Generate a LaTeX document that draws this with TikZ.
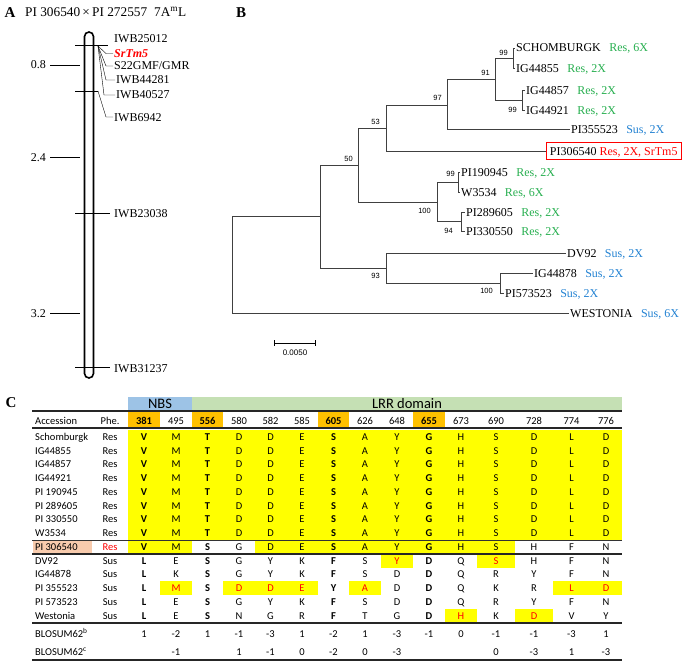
\documentclass[tikz,border=0pt]{standalone}
\usepackage{fontspec}
\setmainfont{Liberation Serif}
\newfontfamily\calfont{Carlito}
\newfontfamily\bootfont{Liberation Sans}
\usetikzlibrary{positioning}
\definecolor{resgreen}{RGB}{40,175,80}
\definecolor{susblue}{RGB}{35,130,210}
\definecolor{hlyellow}{RGB}{255,255,0}
\definecolor{hlorange}{RGB}{255,192,0}
\definecolor{nbsblue}{RGB}{157,195,230}
\definecolor{lrrgreen}{RGB}{197,224,180}
\definecolor{accsalmon}{RGB}{248,203,173}
\newcommand\rd[1]{\textcolor{red}{#1}}
\def\colx{{144,176,207.5,239,270.5,302,333.5,365,397,429,461,496,534,571.5,606}}
\def\coledge{{128,160,192,223,255,286,318,349,381,413,445,477,515,553,590,622}}

\begin{document}
\begin{tikzpicture}[x=1pt, y=-1pt,
  every node/.style={inner sep=0pt},
  panel/.style={font=\fontsize{15}{15}\selectfont\bfseries},
  mk/.style={anchor=west, inner sep=1pt, font=\fontsize{12}{12}\selectfont, text height=8pt, text depth=0pt},
  leaf/.style={mk},
  boot/.style={font=\bootfont\fontsize{7.5}{7.5}\selectfont, text height=5.4pt, text depth=0pt},
  branch/.style={draw=black!75, line width=0.8pt},
  cell/.style={font=\calfont\fontsize{10.5}{10.5}\selectfont, text height=6.7pt, text depth=0pt},
  band/.style={font=\calfont\fontsize{14.5}{14.5}\selectfont, text height=9.5pt, text depth=0pt},
  rulethick/.style={line width=1.2pt, black!85},
]
\useasboundingbox (0,0) rectangle (685,661);

% ---------- A: genetic map
\node[panel] (lA) at (10,13) {A};
\node[mk, font=\fontsize{13.3}{13.3}\selectfont] (titleA) at (24,13) {PI 306540\,×\,PI 272557\hspace{7pt}7A\textsuperscript{m}L};
\node[draw, line width=1.6pt, rounded corners=4.5pt, minimum width=9pt, minimum height=346pt] (chr) at (89,205) {};
\foreach \cm/\yy [count=\k] in {0.8/65, 2.4/157, 3.2/313} {
  \draw[line width=0.9pt] (50,\yy) -- (80,\yy);
  \node[mk, anchor=east] (sc\k) at (47,\yy) {\cm};
}
\foreach \yy/\xe in {45/108, 91/98, 213/110, 367/110}
  \draw[line width=0.9pt] (75,\yy) -- (\xe,\yy);
\coordinate (fanA) at (98,46);
\coordinate (fanB) at (98,91);
\node[mk] (iwb25012) at (113,39) {IWB25012};
\node[mk, text=red, font=\fontsize{12}{12}\selectfont\bfseries\itshape] (srtm5) at (113,53.5) {SrTm5};
\node[mk] (s22) at (113,66) {S22GMF/GMR};
\node[mk] (iwb44281) at (115,80) {IWB44281};
\node[mk] (iwb40527) at (115,95) {IWB40527};
\node[mk] (iwb6942) at (113,117) {IWB6942};
\node[mk] (iwb23038) at (113,213) {IWB23038};
\node[mk] (iwb31237) at (113,368) {IWB31237};
\draw (fanA) -- ([xshift=-7pt]srtm5.west) -- (srtm5.west);
\draw (fanA) -- ([xshift=-7pt]s22.west) -- (s22.west);
\draw (fanA) -- ([xshift=-9pt]iwb44281.west) -- (iwb44281.west);
\draw (fanA) -- ([xshift=-11pt]iwb40527.west) -- (iwb40527.west);
\draw (fanB) -- ([xshift=-7pt]iwb6942.west) -- (iwb6942.west);

% ---------- B: tree
\node[panel] (lB) at (241,13) {B};
\coordinate (root) at (232,264.5);
\coordinate (nA) at (320,216.5);
\coordinate (nB) at (358,165);
\coordinate (nC) at (386,128.5);
\coordinate (nE) at (447,105.5);
\coordinate (nF) at (495,79);
\coordinate (nG) at (513,58);
\coordinate (nH) at (522,100);
\coordinate (nD) at (437,202);
\coordinate (nI) at (458,182);
\coordinate (nJ) at (461,221.5);
\coordinate (nK) at (386,268);
\coordinate (nL) at (500,283);
\foreach \nm/\lx/\ly/\tg/\tc in {SCHOMBURGK/515/48/{Res, 6X}/resgreen, IG44855/515/68/{Res, 2X}/resgreen,
    IG44857/525/90/{Res, 2X}/resgreen, IG44921/525/110/{Res, 2X}/resgreen, PI355523/570/129/{Sus, 2X}/susblue,
    PI190945/460/172/{Res, 2X}/resgreen, W3534/460/192/{Res, 6X}/resgreen, PI289605/465/212/{Res, 2X}/resgreen,
    PI330550/465/231/{Res, 2X}/resgreen, DV92/566/253/{Sus, 2X}/susblue, IG44878/533/273/{Sus, 2X}/susblue,
    PI573523/504/293/{Sus, 2X}/susblue, WESTONIA/569/313/{Sus, 6X}/susblue} {
  \node[leaf] (\nm) at (\lx,\ly) {\nm};
  \node[leaf, text=\tc, right=6pt of \nm] (\nm-tag) {\tg};
}
\node[leaf, draw=red, line width=0.8pt, inner sep=3.5pt, text height=9pt, text depth=1pt] (PI306540) at (546,151) {PI306540 \textcolor{red}{Res, 2X, SrTm5}};
\foreach \from/\to in {root/nA, root/WESTONIA.west, nA/nB, nA/nK, nB/nC, nB/nD, nC/nE, nC/PI306540.west,
    nE/nF, nE/PI355523.west, nF/nG, nF/nH, nG/SCHOMBURGK.west, nG/IG44855.west, nH/IG44857.west, nH/IG44921.west,
    nD/nI, nD/nJ, nI/PI190945.west, nI/W3534.west, nJ/PI289605.west, nJ/PI330550.west,
    nK/DV92.west, nK/nL, nL/IG44878.west, nL/PI573523.west}
  \draw[branch] (\from) |- (\to);
% bootstrap values
\node[boot, above left=3pt and 5pt of nB] (bs50) {50};
\node[boot, above left=3.5pt and 6pt of nC] (bs53) {53};
\node[boot, above left=5pt and 5pt of nE] (bs97) {97};
\node[boot, above left=3pt and 5pt of nF] (bs91) {91};
\node[boot, above left=2pt and 5pt of nG] (bs99a) {99};
\node[boot, below left=7pt and 5pt of nH] (bs99b) {99};
\node[boot, below left=6pt and 6pt of nD] (bs100a) {100};
\node[boot, above left=5pt and 3pt of nI] (bs99c) {99};
\node[boot, below left=6.5pt and 8pt of nJ] (bs94) {94};
\node[boot, below left=5pt and 6pt of nK] (bs93) {93};
\node[boot, below left=5pt and 7pt of nL] (bs100b) {100};
% scale bar
\coordinate (sbL) at (274,343);
\coordinate (sbR) at (316,343);
\draw[|-|, line width=0.6pt] (sbL) -- (sbR);
\node[boot, font=\bootfont\fontsize{8}{8}\selectfont] (sblbl) at (295,353) {0.0050};

% ---------- C: table
\node[panel] (lC) at (11,403) {C};
\fill[nbsblue] (128,397) rectangle (192,411);
\fill[lrrgreen] (192,397) rectangle (622,411);
\node[band] (nbs) at (160,404) {NBS};
\node[band] (lrr) at (407,404) {LRR domain};
\foreach \ca in {1,3,7,10} {
  \pgfmathsetmacro\xa{\coledge[\ca-1]}
  \pgfmathsetmacro\xb{\coledge[\ca]}
  \fill[hlorange] (\xa,411) rectangle (\xb,428);
}
\foreach \ca/\cb/\ra/\rb in {1/15/1/8, 1/2/9/9, 5/12/9/9, 9/9/10/10, 12/12/10/10, 2/2/12/12,
    4/6/12/12, 8/8/12/12, 14/15/12/12, 11/11/14/14, 13/13/14/14} {
  \pgfmathsetmacro\xa{\coledge[\ca-1]}
  \pgfmathsetmacro\xb{\coledge[\cb]}
  \pgfmathsetmacro\ya{430+(\ra-1)*13.77}
  \pgfmathsetmacro\yb{430+\rb*13.77}
  \fill[hlyellow] (\xa,\ya) rectangle (\xb,\yb);
}
\fill[accsalmon] (33,540.6) rectangle (92,553.6);
% header
\node[cell, anchor=west] (hacc) at (35,421) {Accession};
\node[cell] (hphe) at (110,421) {Phe.};
\foreach \p [count=\cl] in {381,495,556,580,582,585,605,626,648,655,673,690,728,774,776} {
  \pgfmathsetmacro\cx{\colx[\cl-1]}
  \pgfmathtruncatemacro\isb{(\cl==1)||(\cl==3)||(\cl==7)||(\cl==10)}
  \node[cell] (h\cl) at (\cx,421) {\ifnum\isb=1 \bfseries\fi\p};
}
% rows
\foreach \acc/\phe/\seq [count=\rw] in {
    Schomburgk/Res/{V,M,T,D,D,E,S,A,Y,G,H,S,D,L,D},
    IG44855/Res/{V,M,T,D,D,E,S,A,Y,G,H,S,D,L,D},
    IG44857/Res/{V,M,T,D,D,E,S,A,Y,G,H,S,D,L,D},
    IG44921/Res/{V,M,T,D,D,E,S,A,Y,G,H,S,D,L,D},
    PI 190945/Res/{V,M,T,D,D,E,S,A,Y,G,H,S,D,L,D},
    PI 289605/Res/{V,M,T,D,D,E,S,A,Y,G,H,S,D,L,D},
    PI 330550/Res/{V,M,T,D,D,E,S,A,Y,G,H,S,D,L,D},
    W3534/Res/{V,M,T,D,D,E,S,A,Y,G,H,S,D,L,D},
    PI 306540/\rd{Res}/{V,M,S,G,D,E,S,A,Y,G,H,S,H,F,N},
    DV92/Sus/{L,E,S,G,Y,K,F,S,\rd{Y},D,Q,\rd{S},H,F,N},
    IG44878/Sus/{L,K,S,G,Y,K,F,S,D,D,Q,R,Y,F,N},
    PI 355523/Sus/{L,\rd{M},S,\rd{D},\rd{D},\rd{E},Y,\rd{A},D,D,Q,K,R,\rd{L},\rd{D}},
    PI 573523/Sus/{L,E,S,G,Y,K,F,S,D,D,Q,R,Y,F,N},
    Westonia/Sus/{L,E,S,N,G,R,F,T,G,D,\rd{H},K,\rd{D},V,Y}} {
  \pgfmathsetmacro\ry{436.9+(\rw-1)*13.77}
  \node[cell, anchor=west] (acc\rw) at (35,\ry) {\acc};
  \node[cell] (phe\rw) at (110,\ry) {\phe};
  \foreach \aacid [count=\cl] in \seq {
    \pgfmathsetmacro\cx{\colx[\cl-1]}
    \pgfmathtruncatemacro\isb{(\cl==1)||(\cl==3)||(\cl==7)||(\cl==10)}
    \node[cell] (r\rw-\cl) at (\cx,\ry) {\ifnum\isb=1 \bfseries\fi\aacid};
  }
}
% BLOSUM62 scores
\node[cell, anchor=west] (blb) at (35,634) {BLOSUM62\textsuperscript{b}};
\node[cell, anchor=west] (blc) at (35,652) {BLOSUM62\textsuperscript{c}};
\foreach \bval [count=\cl] in {1,-2,1,-1,-3,1,-2,1,-3,-1,0,-1,-1,-3,1} {
  \pgfmathsetmacro\cx{\colx[\cl-1]}
  \node[cell] (bb\cl) at (\cx,634) {\bval};
}
\foreach \bval [count=\cl] in {{},-1,{},1,-1,0,-2,0,-3,{},{},0,-3,1,-3} {
  \pgfmathsetmacro\cx{\colx[\cl-1]}
  \node[cell] (bc\cl) at (\cx,652) {\bval};
}
% rules
\foreach \yy in {411,428,554,623,660}
  \draw[rulethick] (32,\yy) -- (622,\yy);
\draw[line width=0.8pt, black!80] (32,540.4) -- (622,540.4);
\end{tikzpicture}
\end{document}
